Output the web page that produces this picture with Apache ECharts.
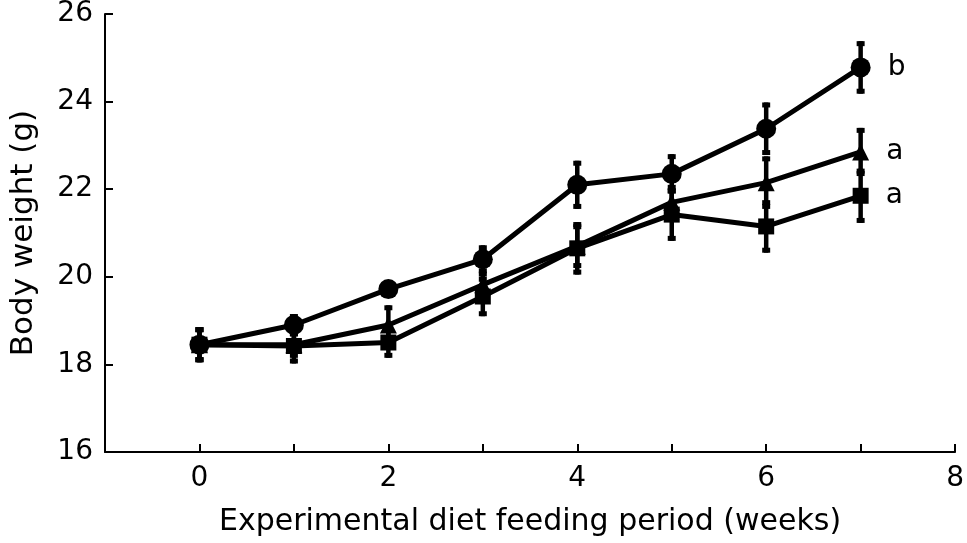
<!DOCTYPE html>
<html>
<head>
<meta charset="utf-8">
<script src="https://cdn.jsdelivr.net/npm/echarts@6/dist/echarts.min.js"></script>
<style>html,body{margin:0;padding:0;background:#fff}#c{width:967px;height:543px}</style>
</head>
<body>
<div id="c"></div>
<script>
const weeks = [0, 1, 2, 3, 4, 5, 6, 7];
const circleMean = [18.45, 18.9, 19.72, 20.4, 22.1, 22.35, 23.38, 24.78];
const circleSE   = [0.4, 0.25, 0.2, 0.32, 0.55, 0.45, 0.6, 0.6];
const triMean    = [18.45, 18.45, 18.9, 19.82, 20.7, 21.7, 22.15, 22.85];
const triSE      = [0.4, 0.3, 0.45, 0.3, 0.5, 0.4, 0.6, 0.55];
const sqMean     = [18.45, 18.42, 18.5, 19.55, 20.65, 21.42, 21.15, 21.85];
const sqSE       = [0.4, 0.4, 0.35, 0.45, 0.6, 0.6, 0.6, 0.62];
const groupLabels = ['b', 'a', 'a'];
const xTicks = [0, 2, 4, 6, 8];
const yTicks = [16, 18, 20, 22, 24, 26];

const FONT = 'DejaVu Sans';
const groups = [
  { mean: circleMean, se: circleSE, symbol: 'circle', size: 20, label: groupLabels[0] },
  { mean: triMean, se: triSE, symbol: 'triangle', size: 17, label: groupLabels[1] },
  { mean: sqMean, se: sqSE, symbol: 'rect', size: 16, label: groupLabels[2] }
];

const series = [];
groups.forEach(g => {
  const errData = weeks.map((w, i) => [w, g.mean[i] - g.se[i], g.mean[i] + g.se[i]]);
  series.push({
    type: 'custom',
    z: 1,
    renderItem: function (params, api) {
      const lo = api.coord([api.value(0), api.value(1)]);
      const hi = api.coord([api.value(0), api.value(2)]);
      const cw = 4;
      return {
        type: 'group',
        children: [
          { type: 'line', shape: { x1: lo[0], y1: lo[1], x2: hi[0], y2: hi[1] }, style: { stroke: '#000', lineWidth: 4.5 } },
          { type: 'rect', shape: { x: hi[0] - cw, y: hi[1], width: cw * 2, height: 5 }, style: { fill: '#000' } },
          { type: 'rect', shape: { x: lo[0] - cw, y: lo[1] - 5, width: cw * 2, height: 5 }, style: { fill: '#000' } }
        ]
      };
    },
    encode: { x: 0, y: [1, 2] },
    data: errData
  });
  const lineData = weeks.map((w, i) => {
    const item = { value: [w, g.mean[i]] };
    if (i === weeks.length - 1) {
      item.label = { show: true, position: 'right', distance: 17, formatter: g.label,
        color: '#000', fontFamily: FONT, fontSize: 28 };
    }
    return item;
  });
  series.push({
    type: 'line',
    z: 2,
    data: lineData,
    symbol: g.symbol,
    symbolSize: g.size,
    showAllSymbol: true,
    lineStyle: { color: '#000', width: 5 },
    itemStyle: { color: '#000', borderWidth: 0 },
    label: { show: false },
    emphasis: { disabled: true },
    animation: false
  });
});

const chart = echarts.init(document.getElementById('c'), null, { renderer: 'canvas' });
chart.setOption({
  animation: false,
  backgroundColor: '#fff',
  grid: { left: 103, right: 9, top: 11, bottom: 91, containLabel: false },
  xAxis: {
    type: 'value', min: -1, max: 8, interval: 1,
    name: 'Experimental diet feeding period (weeks)',
    nameLocation: 'middle', nameGap: 55,
    nameTextStyle: { color: '#000', fontFamily: FONT, fontSize: 30 },
    axisLine: { show: true, onZero: false, lineStyle: { color: '#000', width: 2 } },
    axisTick: { show: true, inside: true, length: 8, lineStyle: { color: '#000', width: 2 } },
    axisLabel: { color: '#000', fontFamily: FONT, fontSize: 28, margin: 13,
      formatter: v => (xTicks.indexOf(v) >= 0 ? String(v) : '') },
    splitLine: { show: false }
  },
  yAxis: {
    type: 'value', min: 16, max: 26, interval: 2,
    name: 'Body weight (g)',
    nameLocation: 'middle', nameGap: 66,
    nameTextStyle: { color: '#000', fontFamily: FONT, fontSize: 31 },
    axisLine: { show: true, onZero: false, lineStyle: { color: '#000', width: 2 } },
    axisTick: { show: true, inside: true, length: 8, lineStyle: { color: '#000', width: 2 } },
    axisLabel: { color: '#000', fontFamily: FONT, fontSize: 28, margin: 12,
      formatter: v => (yTicks.indexOf(v) >= 0 ? String(v) : '') },
    splitLine: { show: false }
  },
  series: series
});
</script>
</body>
</html>
